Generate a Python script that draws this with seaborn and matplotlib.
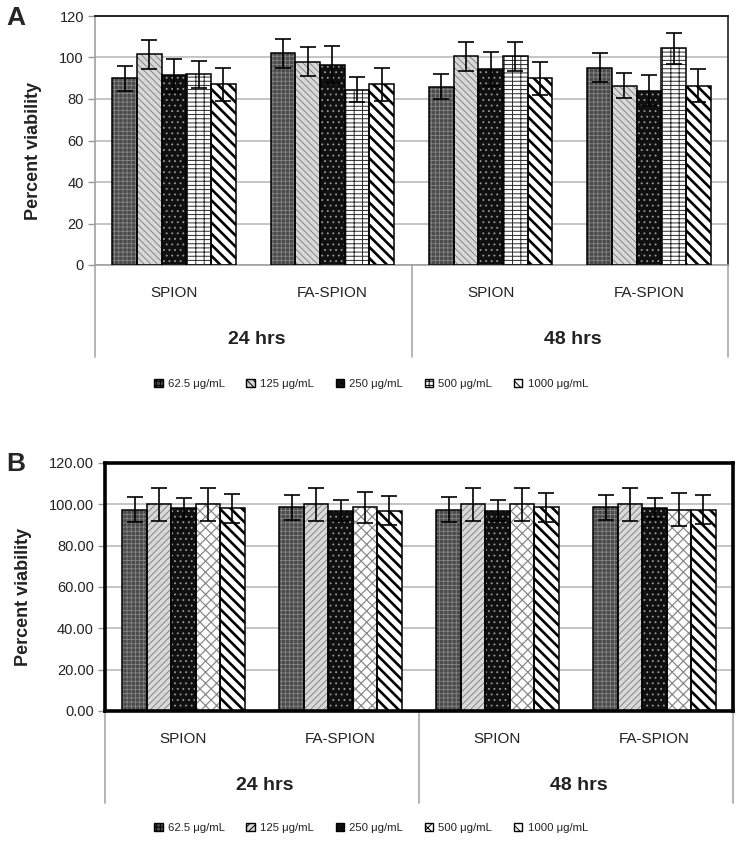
import numpy as np
import pandas as pd
import matplotlib
matplotlib.use("Agg")
import matplotlib.pyplot as plt
import seaborn as sns
from matplotlib.patches import Patch, Rectangle
from matplotlib.container import BarContainer

# ---------------- data ----------------
group_labels = ["SPION", "FA-SPION", "SPION", "FA-SPION"]
group_keys = ["24 hrs | SPION", "24 hrs | FA-SPION", "48 hrs | SPION", "48 hrs | FA-SPION"]
times = ["24 hrs", "48 hrs"]
concs = ["62.5 μg/mL", "125 μg/mL", "250 μg/mL", "500 μg/mL", "1000 μg/mL"]

# Panel A means (per concentration, across the 4 groups)
a_625 = [90.0, 102.0, 86.0, 95.0]
a_125 = [101.5, 98.0, 100.5, 86.5]
a_250 = [91.5, 96.5, 94.5, 84.0]
a_500 = [92.0, 84.5, 100.5, 104.5]
a_1000 = [87.0, 87.0, 90.0, 86.5]
# Panel A error bars
ea_625 = [6.0, 7.0, 6.0, 7.0]
ea_125 = [7.0, 7.0, 7.0, 6.0]
ea_250 = [8.0, 9.0, 8.0, 7.5]
ea_500 = [6.5, 6.0, 7.0, 7.5]
ea_1000 = [8.0, 8.0, 8.0, 8.0]

# Panel B means
b_625 = [97.5, 98.5, 97.5, 98.5]
b_125 = [100.0, 100.0, 100.0, 100.0]
b_250 = [98.0, 97.0, 97.0, 98.0]
b_500 = [100.0, 98.5, 100.0, 97.5]
b_1000 = [98.0, 97.0, 98.5, 97.5]
# Panel B error bars
eb_625 = [6.0, 6.0, 6.0, 6.0]
eb_125 = [8.0, 8.0, 8.0, 8.0]
eb_250 = [5.0, 5.0, 5.0, 5.0]
eb_500 = [8.0, 7.5, 8.0, 8.0]
eb_1000 = [7.0, 7.0, 7.0, 7.0]

y_ticks = [0, 20, 40, 60, 80, 100, 120]

# ---------------- style ----------------
sns.set_theme(style="white")
plt.rcParams['font.family'] = ['Liberation Sans', 'DejaVu Sans']
plt.rcParams['hatch.linewidth'] = 0.7

# (face, hatch colour, hatch, hatch linewidth)
styles_A = [("#4a4a4a", "#858585", "++++", 0.6),
            ("#d8d8d8", "#7a7a7a", "\\\\\\\\\\", 0.6),
            ("#101010", "#9a9a9a", "...", 0.6),
            ("#ffffff", "#2a2a2a", "----||", 0.7),
            ("#ffffff", "#000000", "\\\\\\", 1.9)]
styles_B = [("#4a4a4a", "#858585", "++++", 0.6),
            ("#d8d8d8", "#7a7a7a", "/////", 0.6),
            ("#101010", "#9a9a9a", "...", 0.6),
            ("#ffffff", "#8a8a8a", "xxx", 0.9),
            ("#ffffff", "#000000", "\\\\\\", 1.9)]


def make_df(vals):
    rows = []
    for c, series in zip(concs, vals):
        for g, v in zip(group_keys, series):
            rows.append({"group": g, "conc": c, "value": v})
    return pd.DataFrame(rows)


def draw_panel(ax, vals, errs, styles, fmt, frame_bold):
    df = make_df(vals)
    sns.barplot(data=df, x="group", y="value", hue="conc", order=group_keys,
                hue_order=concs, width=0.78, errorbar=None, legend=False,
                palette=[s[0] for s in styles], saturation=1, ax=ax,
                linewidth=0, zorder=2)
    bar_conts = [c for c in ax.containers if isinstance(c, BarContainer)]
    for ci, cont in enumerate(bar_conts):
        face, hcol, hatch, hlw = styles[ci]
        bars = sorted(cont.patches, key=lambda p: p.get_x())
        xs, ys = [], []
        for b in bars:
            b.set_facecolor(face)
            b.set_edgecolor(hcol)
            b.set_hatch(hatch)
            b.set_linewidth(0)
            if hasattr(b, "set_hatch_linewidth"):
                b.set_hatch_linewidth(hlw)
            ax.add_patch(Rectangle((b.get_x(), b.get_y()), b.get_width(), b.get_height(),
                                   fill=False, edgecolor="black", linewidth=1.1, zorder=3))
            xs.append(b.get_x() + b.get_width() / 2)
            ys.append(b.get_height())
        ax.errorbar(xs, ys, yerr=errs[ci], fmt="none", ecolor="black", elinewidth=1.2,
                    capsize=5.5, capthick=1.2, zorder=5)

    ax.set_ylim(0, 120)
    ax.set_xlim(-0.5, 3.5)
    ax.set_yticks(y_ticks)
    ax.set_yticklabels([fmt % t for t in y_ticks])
    ax.yaxis.grid(True, color="#b5b5b5", linewidth=1.1)
    ax.set_axisbelow(True)
    ax.set_xticks(range(4))
    ax.set_xticklabels(group_labels, fontsize=11, color="#222222")
    ax.tick_params(axis="x", length=0, pad=15)
    ax.tick_params(axis="y", length=5, width=1, color="#999999", labelsize=10.5,
                   labelcolor="#222222", pad=3, left=True, direction="out")
    ax.set_xlabel("")

    if frame_bold:
        for s in ax.spines.values():
            s.set_color("black")
            s.set_linewidth(2.6)
    else:
        ax.spines["top"].set_color("#222222")
        ax.spines["top"].set_linewidth(1.4)
        ax.spines["right"].set_color("#333333")
        ax.spines["right"].set_linewidth(1.3)
        ax.spines["left"].set_color("#a0a0a0")
        ax.spines["left"].set_linewidth(1.2)
        ax.spines["bottom"].set_color("#a0a0a0")
        ax.spines["bottom"].set_linewidth(1.2)

    # category table below the axis
    for xf in [0.0, 0.5, 1.0]:
        ax.plot([xf, xf], [0, -0.37], transform=ax.transAxes, color="#b0b0b0",
                linewidth=1.3, clip_on=False, zorder=1)
    for i, t in enumerate(times):
        ax.text(0.25 + 0.5 * i + 0.005, -0.30, t, transform=ax.transAxes, ha="center",
                va="center", fontsize=14, fontweight="bold", color="#222222")


fig = plt.figure(figsize=(7.44, 8.43), dpi=100)
axA = fig.add_axes([95 / 744, 1 - 265 / 843, 633 / 744, 249 / 843])
axB = fig.add_axes([105 / 744, 1 - 711 / 843, 628 / 744, 248 / 843])

draw_panel(axA, [a_625, a_125, a_250, a_500, a_1000],
           [ea_625, ea_125, ea_250, ea_500, ea_1000], styles_A, "%d", False)
draw_panel(axB, [b_625, b_125, b_250, b_500, b_1000],
           [eb_625, eb_125, eb_250, eb_500, eb_1000], styles_B, "%.2f", True)

for ax, xlab in [(axA, -0.084), (axB, -0.116)]:
    ax.set_ylabel("Percent viability", fontsize=13, fontweight="bold", color="#222222")
    ax.yaxis.set_label_coords(xlab, 0.46)

# legends
for styles, ycen in [(styles_A, 384), (styles_B, 828)]:
    handles = [Patch(facecolor=s[0], edgecolor="black", hatch=s[2], linewidth=1.0)
               for s in styles]
    fig.legend(handles, concs, loc="center", bbox_to_anchor=(371 / 744, 1 - ycen / 843),
               ncol=5, frameon=False, fontsize=8.2, handlelength=0.75, handleheight=0.75,
               handletextpad=0.45, columnspacing=1.9, labelcolor="#222222")

fig.text(16 / 744, 1 - 18 / 843, "A", fontsize=19, fontweight="bold", ha="center", va="center")
fig.text(16 / 744, 1 - 464 / 843, "B", fontsize=19, fontweight="bold", ha="center", va="center")

fig.savefig("out.png", dpi=100)
